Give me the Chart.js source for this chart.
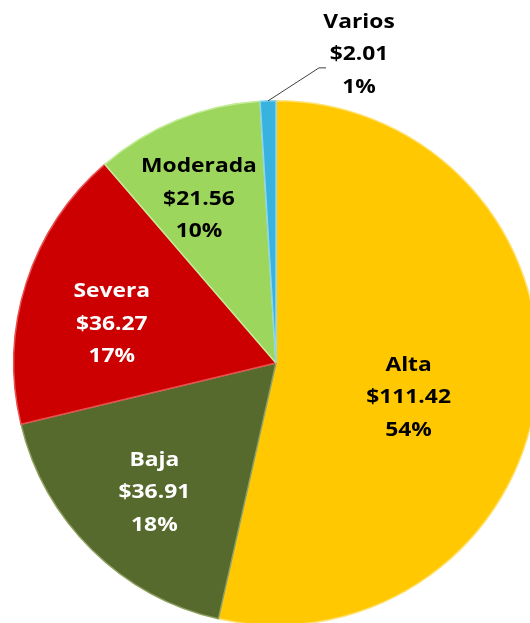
<!DOCTYPE html>
<html>
<head>
<meta charset="utf-8">
<script src="https://cdn.jsdelivr.net/npm/chart.js@4.4.1/dist/chart.umd.min.js"></script>
<style>
  html, body { margin: 0; padding: 0; background: #fff; overflow: hidden; }
  #wrap { position: relative; width: 530px; height: 623px; overflow: hidden; }
  #myChart { position: absolute; left: 0; top: 0; }
</style>
</head>
<body>
<div id="wrap"><canvas id="myChart" width="560" height="660"></canvas></div>
<script>
// data block
const labels = ['Alta', 'Baja', 'Severa', 'Moderada', 'Varios'];
const values = [111.42, 36.91, 36.27, 21.56, 2.01];
const colors = ['#FFC800', '#566A2E', '#CC0000', '#9CD65C', '#38B2DE'];
const edgeColors = ['#FFE070', '#8FA060', '#E85050', '#C4EC98', '#8AD6F2'];
const textColors = ['#000000', '#ffffff', '#ffffff', '#000000', '#000000'];
// label placement: fraction of radius and angle shift (deg) from slice middle, null = outside with leader line
const labelRadius = [0.52, 0.67, 0.646, 0.70, null];
const labelShift = [7.2, -0.8, -3.6, -2.7, 0];

const total = values.reduce((a, b) => a + b, 0);

// labels plugin: draws name / $value / percent on each slice
const sliceLabels = {
    id: 'sliceLabels',
    afterDatasetsDraw(chart) {
        const ctx = chart.ctx;
        const arcs = chart.getDatasetMeta(0).data;
        ctx.save();
        ctx.font = 'bold 19px "Open Sans"';
        ctx.textAlign = 'center';
        ctx.textBaseline = 'middle';
        arcs.forEach((arc, i) => {
            const p = arc.getProps(['x', 'y', 'startAngle', 'endAngle', 'outerRadius'], true);
            const mid = (p.startAngle + p.endAngle) / 2;
            let cx, cy;
            if (labelRadius[i] !== null) {
                const a = mid + labelShift[i] * Math.PI / 180;
                cx = p.x + Math.cos(a) * p.outerRadius * labelRadius[i];
                cy = p.y + Math.sin(a) * p.outerRadius * labelRadius[i] + 3;
            } else {
                // leader line from the slice edge
                const ex = p.x + Math.cos(mid) * p.outerRadius;
                const ey = p.y + Math.sin(mid) * p.outerRadius;
                ctx.strokeStyle = '#404040';
                ctx.lineWidth = 1;
                ctx.beginPath();
                ctx.moveTo(ex, ey);
                ctx.lineTo(ex + 51, ey - 33);
                ctx.lineTo(ex + 58, ey - 33);
                ctx.stroke();
                cx = ex + 91;
                cy = ey - 46;
            }
            const lines = [
                labels[i],
                '$' + values[i].toFixed(2),
                Math.round(values[i] / total * 100) + '%'
            ];
            ctx.fillStyle = textColors[i];
            lines.forEach((t, k) => {
                ctx.save();
                ctx.translate(cx, cy + (k - 1) * 32.5);
                ctx.scale(1.2, 1);
                ctx.fillText(t, 0, 0);
                ctx.restore();
            });
        });
        ctx.restore();
    }
};

const data = {
    labels: labels,
    datasets: [{
        data: values,
        backgroundColor: colors,
        borderColor: edgeColors,
        borderWidth: 1.5
    }]
};

const config = {
    type: 'pie',
    data: data,
    options: {
        responsive: false,
        animation: false,
        layout: { padding: { left: 13, top: 100, right: 21, bottom: 34 } },
        plugins: {
            legend: { display: false },
            tooltip: { enabled: false }
        }
    },
    plugins: [sliceLabels]
};

const myChart = new Chart(document.getElementById('myChart'), config);
</script>
</body>
</html>
